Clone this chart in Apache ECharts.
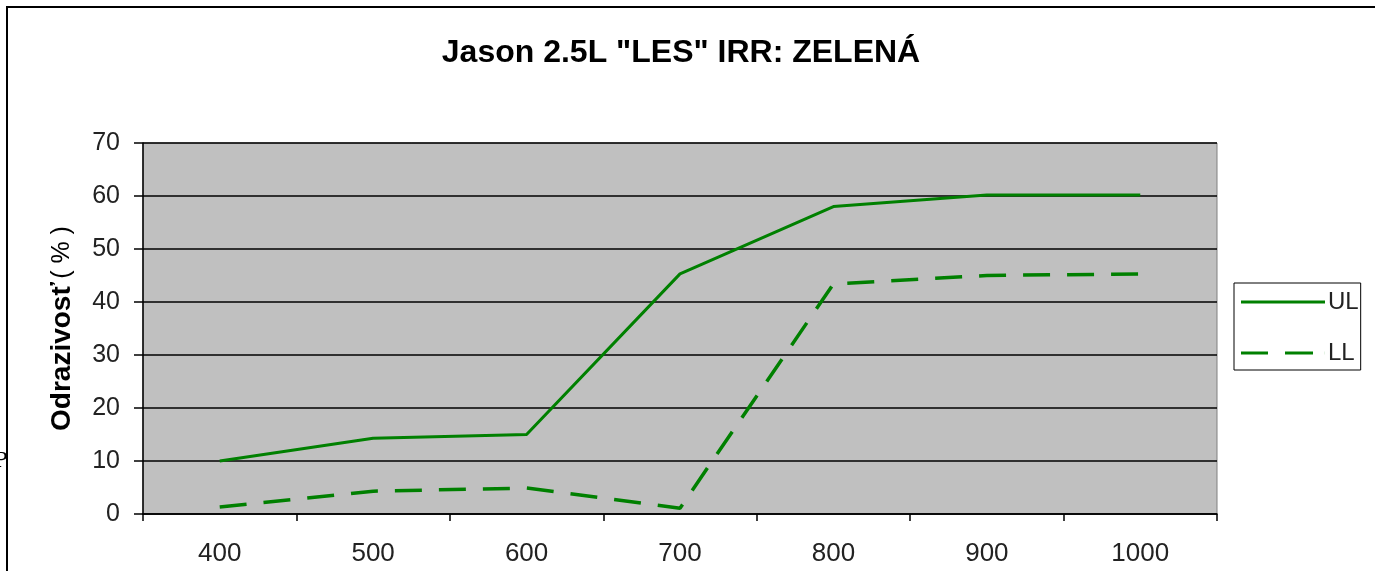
<!DOCTYPE html>
<html>
<head>
<meta charset="utf-8">
<script src="https://cdn.jsdelivr.net/npm/echarts@6/dist/echarts.min.js"></script>
<style>
  html, body { margin: 0; padding: 0; background: #fff; overflow: hidden; }
  #main { width: 1375px; height: 571px; }
</style>
</head>
<body>
<div id="main"></div>
<script>
// vlnová dĺžka (nm)
var categories = ["400", "500", "600", "700", "800", "900", "1000"];
// horná a dolná hranica odrazivosti (%)
var ulValues = [10, 14.3, 15, 45.3, 58, 60.2, 60.2];
var llValues = [1.3, 4.3, 4.9, 1.1, 43.4, 45, 45.3];
var yTicks = [0, 10, 20, 30, 40, 50, 60, 70];

var myChart = echarts.init(document.getElementById("main"));
var font = "'Liberation Sans', Arial, sans-serif";

var option = {
  animation: false,
  title: {
    text: 'Jason 2.5L "LES" IRR: ZELENÁ',
    left: 676,
    textAlign: "center",
    top: 32,
    textStyle: { fontFamily: font, fontSize: 32, fontWeight: "bold", color: "#000" }
  },
  graphic: [
    {
      type: "rect",
      shape: { x: 7, y: 7, width: 1420, height: 620 },
      style: { fill: "none", stroke: "#000", lineWidth: 2 },
      silent: true
    },
    {
      type: "text",
      left: -6,
      top: 452,
      style: { text: "P", fontFamily: "'DejaVu Serif', serif", fontSize: 20, fill: "#000" }
    }
  ],
  legend: {
    orient: "vertical",
    left: 1234,
    top: 283,
    itemWidth: 84,
    itemHeight: 3,
    itemGap: 27,
    padding: [7, 2, 5, 7],
    borderColor: "#000",
    borderWidth: 1,
    backgroundColor: "#fff",
    textStyle: { fontFamily: font, fontSize: 24, lineHeight: 24, color: "#222", padding: [0, 0, 0, -2] },
    data: [
      { name: "UL", icon: "path://M0,0L84,0L84,3L0,3Z", itemStyle: { color: "#008000" } },
      { name: "LL", icon: "path://M0,0L27,0L27,3L0,3Z M44,0L72,0L72,3L44,3Z M83.9,0L84,0L84,3L83.9,3Z", itemStyle: { color: "#008000" } }
    ]
  },
  grid: {
    left: 143,
    right: 158,
    top: 143,
    bottom: 57,
    show: true,
    backgroundColor: "#c0c0c0",
    borderColor: "#808080",
    borderWidth: 1
  },
  xAxis: {
    type: "category",
    boundaryGap: true,
    data: categories,
    axisLine: { lineStyle: { color: "#000", width: 1.5 } },
    axisTick: { show: true, length: 7, lineStyle: { color: "#000", width: 1.5 } },
    axisLabel: { margin: 27, fontFamily: font, fontSize: 26, color: "#222" },
    splitLine: { show: false }
  },
  yAxis: {
    type: "value",
    min: yTicks[0],
    max: yTicks[yTicks.length - 1],
    interval: 10,
    name: "{b|Odrazivosť} {n|( % )}",
    nameLocation: "middle",
    nameRotate: 90,
    nameGap: 67,
    nameTextStyle: {
      rich: {
        b: { fontFamily: font, fontSize: 28, fontWeight: "bold", color: "#000" },
        n: { fontFamily: font, fontSize: 25, color: "#000" }
      }
    },
    axisLine: { show: true, lineStyle: { color: "#000", width: 1.5 } },
    axisTick: { show: true, length: 9, lineStyle: { color: "#000", width: 1.5 } },
    axisLabel: { margin: 23, fontFamily: font, fontSize: 25, color: "#222" },
    splitLine: { show: true, lineStyle: { color: "#000", width: 1.5 } }
  },
  series: [
    {
      name: "UL",
      type: "line",
      symbol: "none",
      data: ulValues,
      itemStyle: { color: "#008000" },
      lineStyle: { color: "#008000", width: 3 }
    },
    {
      name: "LL",
      type: "line",
      symbol: "none",
      data: llValues,
      itemStyle: { color: "#008000" },
      lineStyle: { color: "#008000", width: 3.5, type: [27, 17] }
    }
  ]
};
myChart.setOption(option);
</script>
</body>
</html>
